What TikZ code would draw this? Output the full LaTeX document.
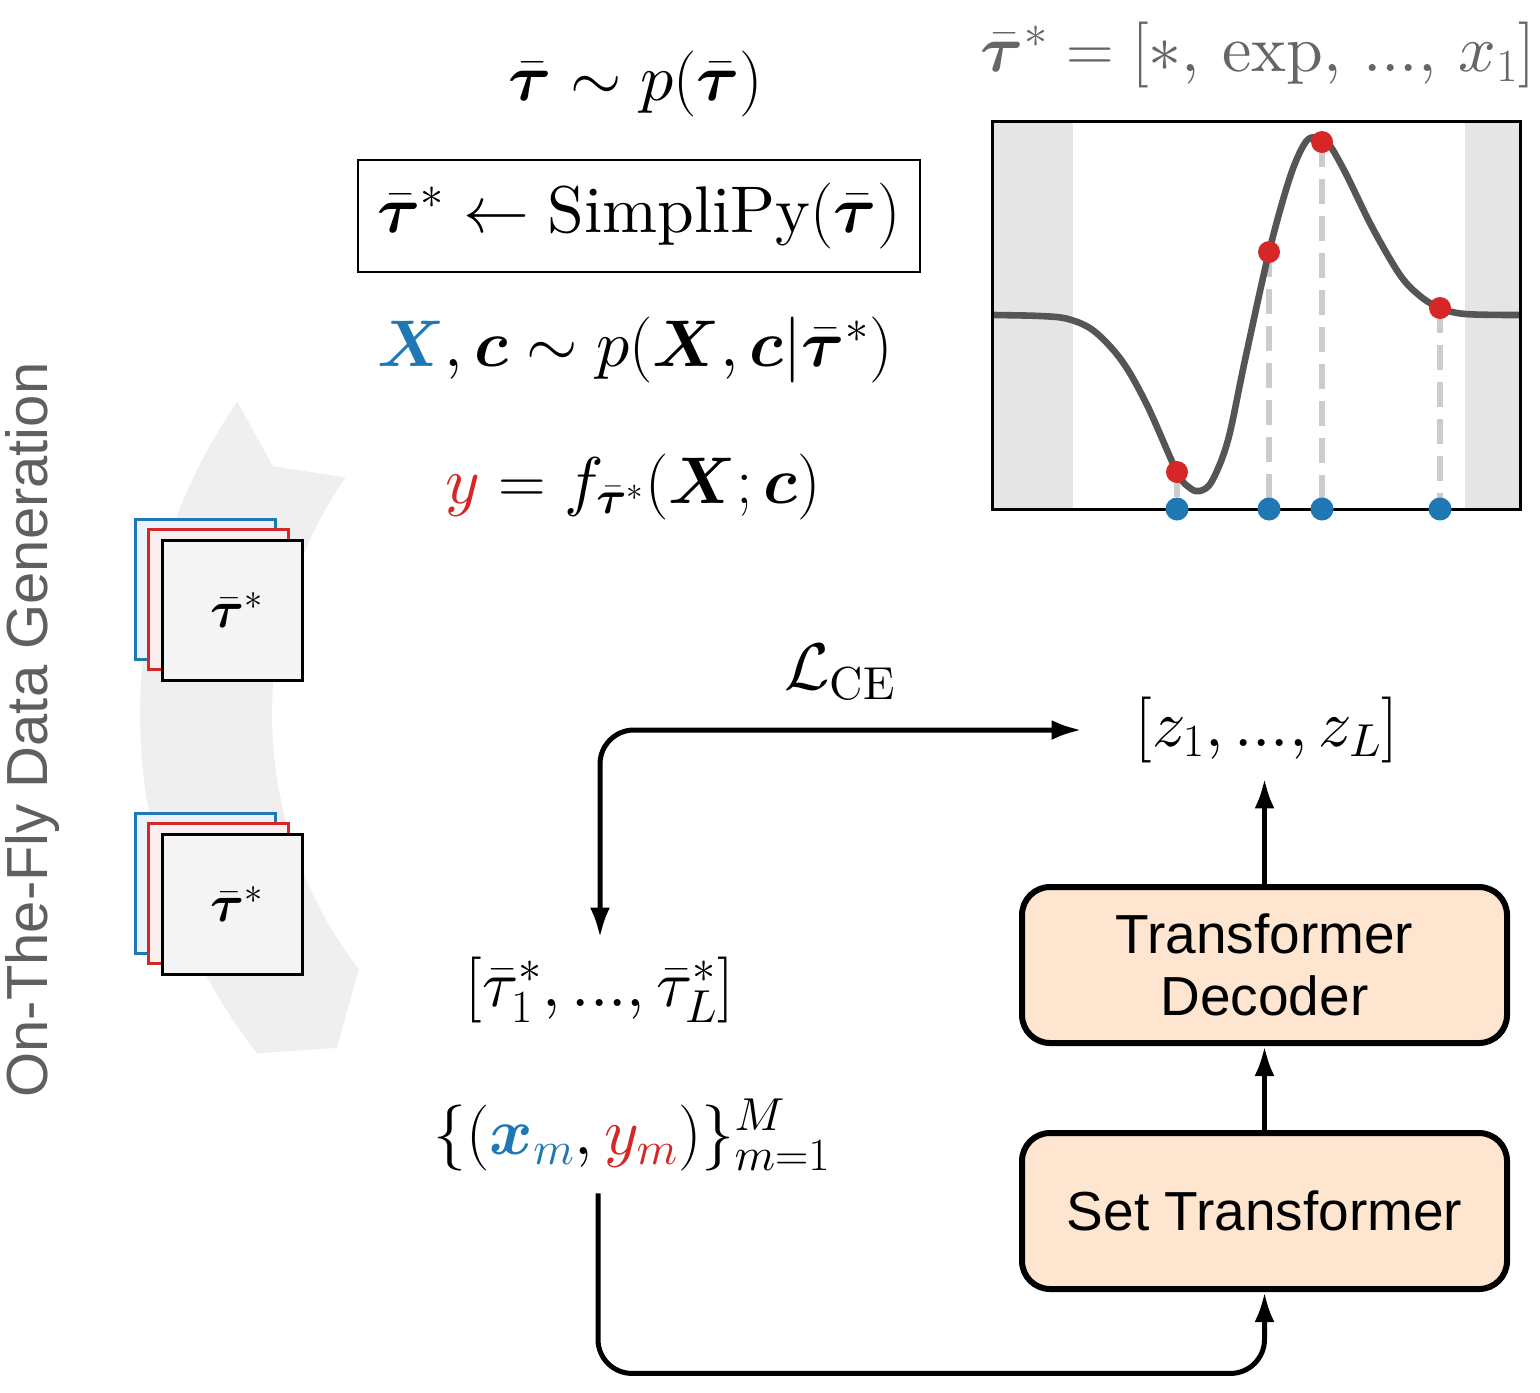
\RequirePackage{fix-cm}
\documentclass[tikz,border=0pt]{standalone}
\usepackage{amsmath}
\usepackage{bm}
\usepackage{fontspec}
\setmainfont{lmroman10-regular.otf}[BoldFont=lmroman10-bold.otf, ItalicFont=lmroman10-italic.otf]
\setsansfont{Liberation Sans}
\DeclareFontShape{OML}{cmm}{m}{it}{<->cmmi10}{}
\DeclareFontShape{OML}{cmm}{b}{it}{<->cmmib10}{}
\DeclareFontShape{OMS}{cmsy}{m}{n}{<->cmsy10}{}
\DeclareFontShape{OMS}{cmsy}{b}{n}{<->cmbsy10}{}
\usetikzlibrary{arrows.meta,calc}
\definecolor{tblue}{HTML}{1F77B4}
\definecolor{tred}{HTML}{D62728}
\definecolor{peach}{HTML}{FDE5CF}
\definecolor{arcgray}{HTML}{EFEFEF}
\definecolor{curvegray}{HTML}{555555}
\definecolor{spangray}{HTML}{E5E5E5}
\definecolor{dashgray}{HTML}{CCCCCC}
\definecolor{titlegray}{HTML}{666666}
\definecolor{labelgray}{HTML}{5F5F5F}
\definecolor{cardblue}{HTML}{EAF3FA}
\definecolor{cardred}{HTML}{FBEEEE}
\definecolor{cardgray}{HTML}{F4F4F4}
\tikzset{
  mathtxt/.style={font=\fontsize{33}{40}\selectfont, inner sep=0pt},
  cardtxt/.style={font=\fontsize{26}{31}\selectfont},
  card/.style={minimum width=70pt, minimum height=70pt, inner sep=0pt, line width=1.5pt},
  block/.style={draw, line width=3pt, rounded corners=14pt, fill=peach,
    minimum width=242.5pt, minimum height=78pt, align=center,
    font=\sffamily\fontsize{27.5}{31}\selectfont},
  conn/.style={line width=2.5pt, -{Latex[length=15pt,width=10pt]}},
}
\begin{document}
\begin{tikzpicture}[x=0.5pt,y=-0.5pt]
\useasboundingbox (0,0) rectangle (1540,1392);
% gray curved band
\coordinate (C) at (690,714);
\fill[arcgray] ($(C)+(-145.4:550)$) arc[start angle=-145.4, end angle=-218.1, radius=550]
  -- ($(C)+(-223.4:486)$) -- ($(C)+(-217.6:418)$)
  arc[start angle=-217.6, end angle=-145.5, radius=418]
  -- ($(C)+(-149.3:485)$) -- cycle;
% vertical label
\node[rotate=90, text=labelgray, font=\sffamily\fontsize{29}{34}\selectfont] (otf) at (33,730) {On-The-Fly Data Generation};
% card stacks
\node[card, draw=tblue, fill=cardblue] (b1) at (205.5,589) {};
\node[card, draw=tred, fill=cardred] (r1) at (218.5,599) {};
\node[card, draw=black, fill=cardgray, cardtxt, text depth=0pt] (k1) at (232.5,610) {\hspace*{5pt}$\bm{\bar\tau}^*$};
\node[card, draw=tblue, fill=cardblue] (b2) at (205.5,883) {};
\node[card, draw=tred, fill=cardred] (r2) at (218.5,893) {};
\node[card, draw=black, fill=cardgray, cardtxt, text depth=0pt] (k2) at (232.5,904) {\hspace*{5pt}$\bm{\bar\tau}^*$};
% formulas
\node[mathtxt] (prior) at (636,84) {$\bm{\bar\tau} \sim p(\bm{\bar\tau})$};
\node[draw, line width=1.25pt, minimum width=281pt, minimum height=56pt, inner sep=0pt,
  font=\fontsize{33}{40}\selectfont] (simp) at (639,216) {$\bm{\bar\tau}^* \leftarrow \mathrm{SimpliPy}(\bm{\bar\tau})$};
\node[mathtxt] (xc) at (635,350) {$\textcolor{tblue}{\bm X}, \bm c \sim p(\bm X, \bm c | \bm{\bar\tau}^*)$};
\node[mathtxt] (yf) at (633,487) {$\textcolor{tred}{y} = f_{\bm{\bar\tau}^*}(\bm X; \bm c)$};
% plot
\fill[spangray] (992,121) rectangle (1073,509);
\fill[spangray] (1465,121) rectangle (1520,509);
\foreach \px/\py in {1177/472,1269/252,1322/142,1440/308}
  \draw[dashgray, line width=3pt, dash pattern=on 12.5pt off 6pt] (\px,\py) -- (\px,509);
\draw[curvegray, line width=3.3pt, line join=round] plot[smooth, tension=0.55] coordinates {
  (993,315) (1040,316) (1068,319) (1094,331) (1122,361) (1147,405) (1177,472)
  (1190,488) (1200,491) (1212,481) (1228,440) (1245,360) (1269,252) (1290,177)
  (1305,143) (1316,137) (1328,143) (1345,172) (1372,227) (1400,275) (1420,296)
  (1440,308) (1465,314) (1519,315)};
\draw[line width=1.5pt] (992,121) rectangle (1520,509);
\foreach \px/\py in {1177/472,1269/252,1322/142,1440/308} {
  \fill[tred] (\px,\py) circle[radius=11];
  \fill[tblue] (\px,509) circle[radius=11.5];
}
\node[mathtxt, text=titlegray] (title) at (1258,55) {$\bm{\bar\tau}^* = [*,\, \exp,\, ...,\, x_1]$};
% lower part
\node[mathtxt] (lce) at (840,672) {$\mathcal{L}_{\mathrm{CE}}$};
\node[mathtxt, minimum width=185pt, minimum height=48pt] (z) at (1267,730) {$[z_1, ..., z_L]$};
\node[mathtxt, minimum height=52pt] (tl) at (600,990) {$[\bar\tau^*_1, ..., \bar\tau^*_L]$};
\node[mathtxt, minimum height=58pt] (d) at (632,1135) {$\{(\textcolor{tblue}{\bm x_m}, \textcolor{tred}{y_m})\}_{m=1}^{M}$};
\node[block] (st) at (1264.5,1211) {Set Transformer};
\node[block] (td) at (1264.5,965) {Transformer\\Decoder};
\draw[line width=2.5pt, {Latex[length=15pt,width=10pt]}-{Latex[length=15pt,width=10pt]}, rounded corners=17pt] (tl.north) |- (z.west);
\draw[conn, rounded corners=17pt] ([xshift=-17pt]d.south) -- ++(0,180) -| (st.south);
\draw[conn] (st.north) -- (td.south);
\draw[conn] (td.north) -- (td.north |- z.south);
\end{tikzpicture}
\end{document}
